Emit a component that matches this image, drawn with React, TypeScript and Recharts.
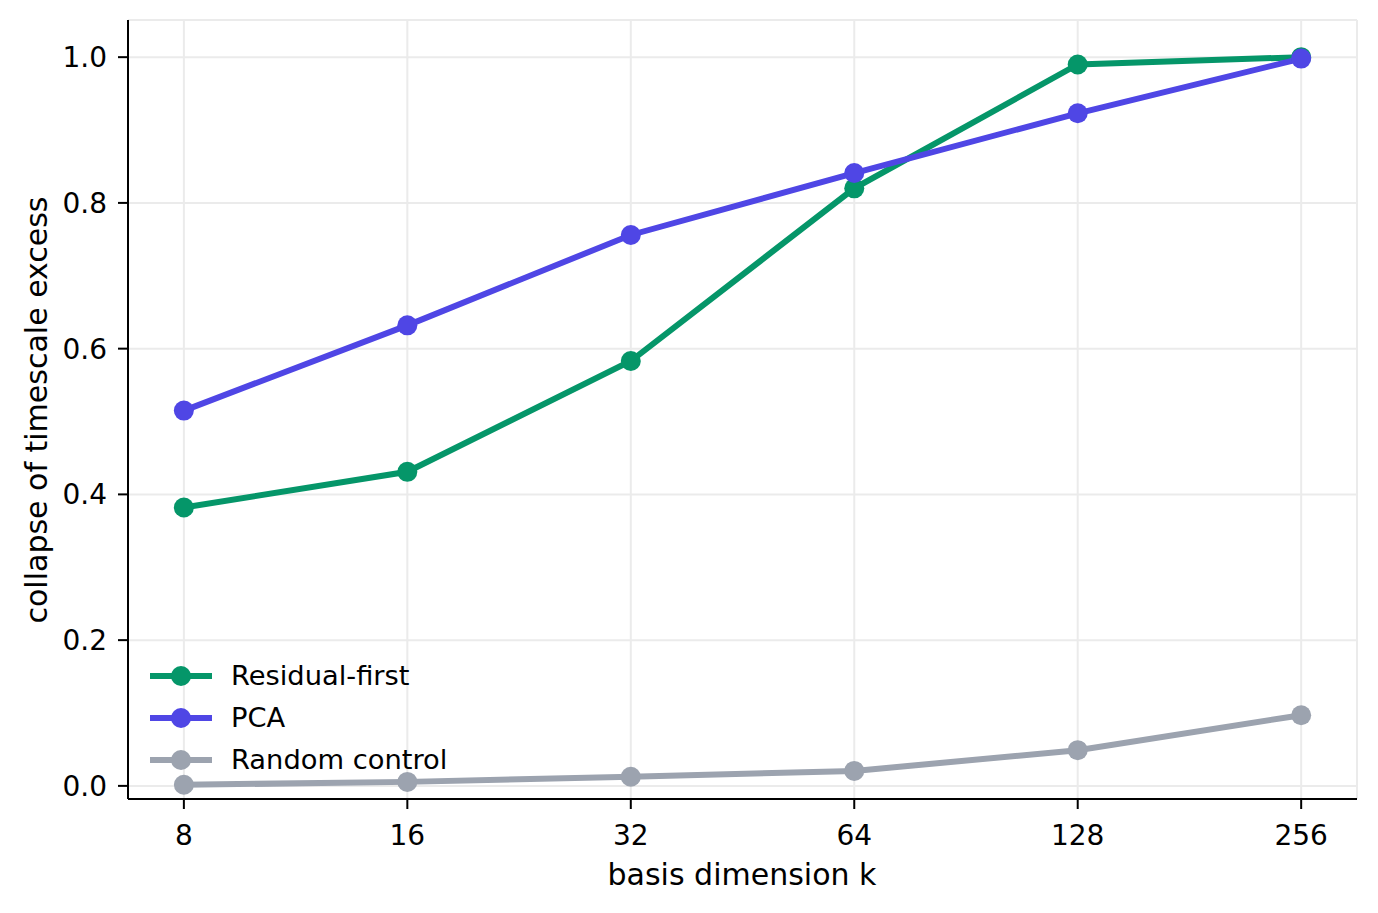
import React from 'react';
import { LineChart, Line, XAxis, YAxis, CartesianGrid, Legend } from 'recharts';

const FONT = '"DejaVu Sans", sans-serif';

// basis dimension k (log2 axis)
const kValues = [8, 16, 32, 64, 128, 256];
const residualFirst = [0.382, 0.431, 0.583, 0.820, 0.990, 1.0];
const pca = [0.515, 0.632, 0.756, 0.841, 0.923, 0.998];
const randomControl = [0.0015, 0.0055, 0.0125, 0.0205, 0.049, 0.097];
const yTicks = [0, 0.2, 0.4, 0.6, 0.8, 1.0];

const series = [
  { key: 'residual', name: 'Residual-first', color: '#059669' },
  { key: 'pca', name: 'PCA', color: '#4f46e5' },
  { key: 'random', name: 'Random control', color: '#9ca3af' },
];

const data = kValues.map((k, i) => ({
  k,
  residual: residualFirst[i],
  pca: pca[i],
  random: randomControl[i],
}));

const renderLegend = () => (
  <div style={{ fontFamily: FONT, fontSize: 27.3, color: '#000' }}>
    {series.map((s) => (
      <div key={s.key} style={{ display: 'flex', alignItems: 'center', height: 42 }}>
        <svg width={62} height={22} style={{ display: 'block' }}>
          <line x1={0} y1={11} x2={62} y2={11} stroke={s.color} strokeWidth={6} />
          <circle cx={31} cy={11} r={10} fill={s.color} />
        </svg>
        <span style={{ marginLeft: 19, lineHeight: 1 }}>{s.name}</span>
      </div>
    ))}
  </div>
);

export default function App() {
  return (
    <div style={{ width: 1378, height: 913, background: '#fff', position: 'relative' }}>
      <style>{'body{margin:0}'}</style>
      <LineChart
        width={1378}
        height={913}
        data={data}
        margin={{ top: 20, right: 21, left: 0, bottom: 0 }}
      >
        <CartesianGrid stroke="#ebebeb" strokeWidth={2} />
        <XAxis
          dataKey="k"
          type="number"
          scale="log"
          domain={[6.727, 304.4]}
          ticks={kValues}
          allowDataOverflow
          height={114}
          tickSize={10}
          tickMargin={16}
          axisLine={{ stroke: '#000', strokeWidth: 2 }}
          tickLine={{ stroke: '#000', strokeWidth: 2 }}
          tick={{ fill: '#000', fontSize: 28, fontFamily: FONT }}
          label={{
            content: () => (
              <text x={742} y={885} textAnchor="middle" fontSize={30} fontFamily={FONT} fill="#000">
                basis dimension k
              </text>
            ),
          }}
        />
        <YAxis
          type="number"
          domain={[-0.018, 1.051]}
          ticks={yTicks}
          allowDataOverflow
          width={128}
          tickSize={10}
          tickMargin={11}
          tickFormatter={(v) => v.toFixed(1)}
          axisLine={{ stroke: '#000', strokeWidth: 2 }}
          tickLine={{ stroke: '#000', strokeWidth: 2 }}
          tick={{ fill: '#000', fontSize: 28, fontFamily: FONT }}
          label={{
            content: () => (
              <text
                x={0}
                y={0}
                transform="translate(47,410) rotate(-90)"
                textAnchor="middle"
                fontSize={30}
                fontFamily={FONT}
                fill="#000"
              >
                collapse of timescale excess
              </text>
            ),
          }}
        />
        <Legend
          layout="vertical"
          align="center"
          verticalAlign="middle"
          content={renderLegend}
          wrapperStyle={{ position: 'absolute', left: 150, top: 655, width: 'auto', height: 'auto' }}
        />
        {series.map((s) => (
          <Line
            key={s.key}
            dataKey={s.key}
            name={s.name}
            stroke={s.color}
            strokeWidth={6}
            dot={{ r: 10, fill: s.color, stroke: 'none' }}
            activeDot={false}
            isAnimationActive={false}
          />
        ))}
      </LineChart>
    </div>
  );
}
